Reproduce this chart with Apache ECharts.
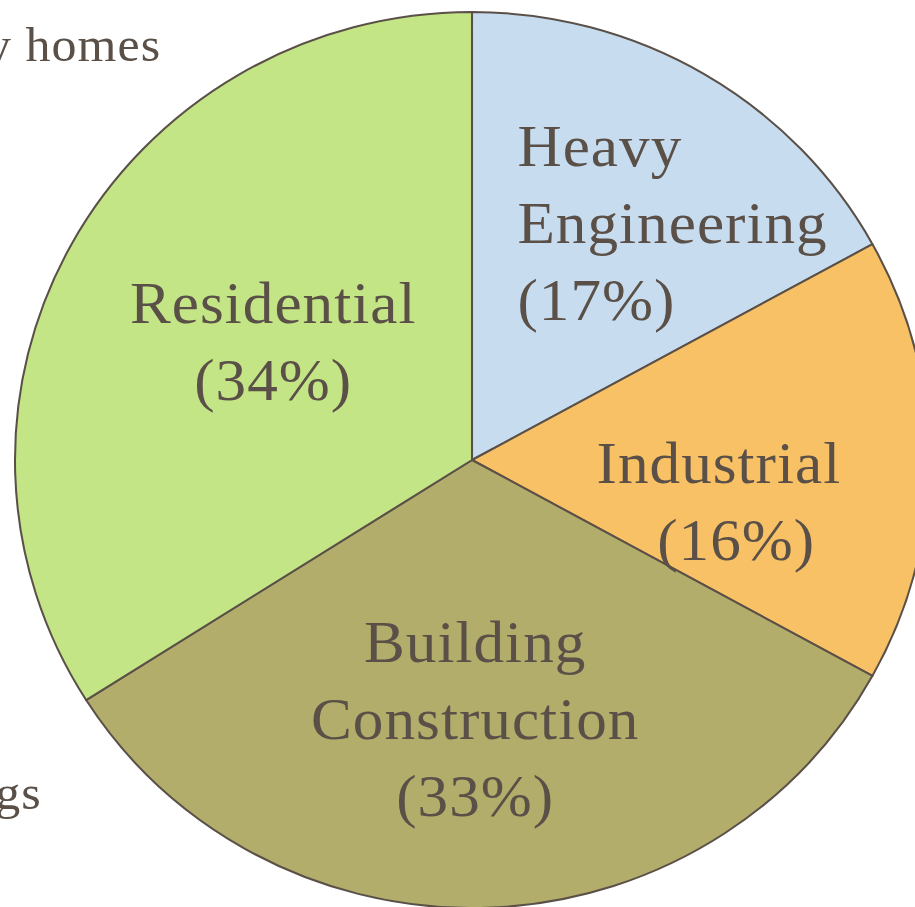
<!DOCTYPE html>
<html>
<head>
<meta charset="utf-8">
<script src="https://cdn.jsdelivr.net/npm/echarts@6/dist/echarts.min.js"></script>
<style>
html,body{margin:0;padding:0;background:#fff;overflow:hidden;}
#wrap{width:915px;height:907px;overflow:hidden;}
#chart{width:897px;height:907px;transform:scaleX(1.0201);transform-origin:0 0;}
#chart text{letter-spacing:1px;}
</style>
</head>
<body>
<div id="wrap"><div id="chart"></div></div>
<script>
const categories = ['Heavy\nEngineering', 'Industrial', 'Building\nConstruction', 'Residential'];
const percents = [17, 16, 33, 34];
const colors = ['#c7dcef', '#f8c165', '#b2ad6a', '#c3e585'];
const sideNotes = ['Family homes', 'Buildings'];

const textColor = '#5a5048';
const fontFamily = '"Liberation Serif", "Times New Roman", serif';

// per-label adjustments (dx, dy, align)
const labelAdjust = [
  {dx: -71, dy: -42, align: 'left'},
  {dx: 15, dy: 41, align: 'center'},
  {dx: -4, dy: 32, align: 'center'},
  {dx: 4, dy: -9, align: 'center'}
];

const data = categories.map((c, i) => {
  const item = {name: c, value: percents[i], itemStyle: {color: colors[i]}};
  if (i === 1) {
    item.label = {formatter: '{a|' + c + '}\n{b|(' + percents[i] + '%)}'};
  }
  return item;
});

const chart = echarts.init(document.getElementById('chart'), null, {renderer: 'svg'});
chart.setOption({
  animation: false,
  backgroundColor: '#fff',
  graphic: [
    {type: 'text', right: 751, top: 20, style: {text: sideNotes[0], font: '49px ' + fontFamily, fill: textColor}},
    {type: 'text', right: 865, top: 768, style: {text: sideNotes[1], font: '49px ' + fontFamily, fill: textColor}}
  ],
  series: [{
    type: 'pie',
    center: [462.7, 460],
    radius: [0, 448],
    startAngle: 90,
    clockwise: true,
    silent: true,
    data: data,
    itemStyle: {borderColor: '#5a5048', borderWidth: 2},
    label: {
      show: true,
      position: 'inside',
      formatter: p => p.name + '\n(' + p.value + '%)',
      color: textColor,
      fontFamily: fontFamily,
      fontSize: 60,
      lineHeight: 77,
      rich: {
        a: {color: textColor, fontFamily: fontFamily, fontSize: 60, lineHeight: 77},
        b: {color: textColor, fontFamily: fontFamily, fontSize: 60, lineHeight: 77, padding: [0, 0, 0, 34]}
      }
    },
    labelLine: {show: false},
    labelLayout: function (params) {
      const a = labelAdjust[params.dataIndex];
      return {dx: a.dx, dy: a.dy, align: a.align};
    }
  }]
});
</script>
</body>
</html>
